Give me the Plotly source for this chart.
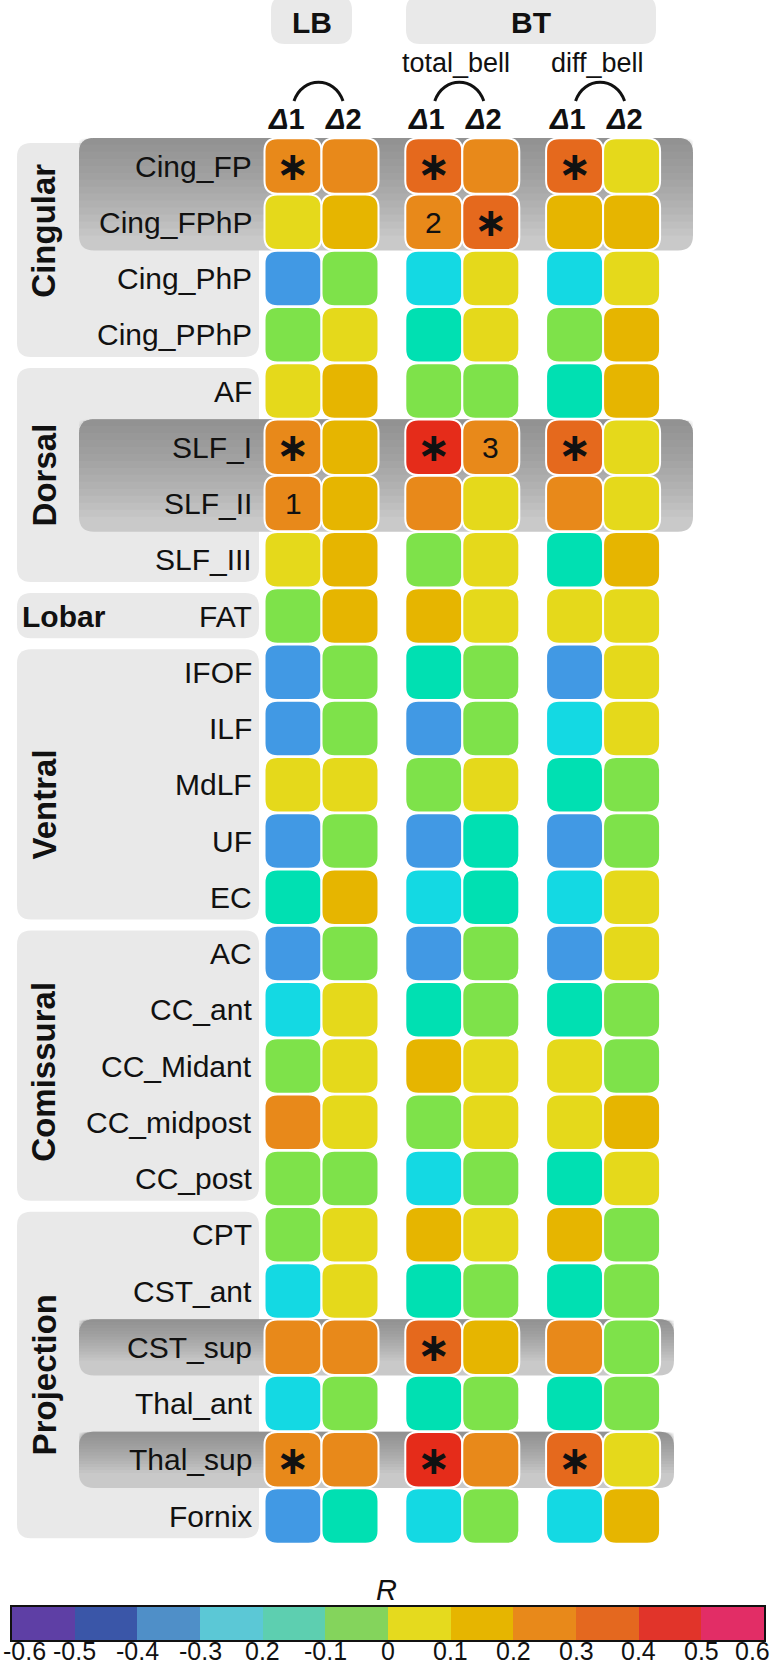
import plotly.graph_objects as go

# ---------------- data ----------------
tracts = ["Cing_FP", "Cing_FPhP", "Cing_PhP", "Cing_PPhP", "AF", "SLF_I", "SLF_II", "SLF_III",
          "FAT", "IFOF", "ILF", "MdLF", "UF", "EC", "AC", "CC_ant", "CC_Midant", "CC_midpost",
          "CC_post", "CPT", "CST_ant", "CST_sup", "Thal_ant", "Thal_sup", "Fornix"]

groups = ["Cingular", "Dorsal", "Lobar", "Ventral", "Comissural", "Projection"]
group_start = [0, 4, 8, 9, 14, 19]
group_end = [3, 7, 8, 13, 18, 24]
group_label_shift = [-0.35, 0, 0, 0.35, 0.1, 0]   # label offset in rows (as placed in the original)

columns = ["LB Δ1", "LB Δ2", "total_bell Δ1", "total_bell Δ2", "diff_bell Δ1", "diff_bell Δ2"]

LB_d1 = [0.25, 0.05, -0.35, -0.05, 0.05, 0.25, 0.25, 0.05, -0.05, -0.35, -0.35, 0.05, -0.35,
         -0.15, -0.35, -0.25, -0.05, 0.25, -0.05, -0.05, -0.25, 0.25, -0.25, 0.25, -0.35]
LB_d2 = [0.25, 0.15, -0.05, 0.05, 0.15, 0.15, 0.15, 0.15, 0.15, -0.05, -0.05, 0.05, -0.05,
         0.15, -0.05, 0.05, 0.05, 0.05, -0.05, 0.05, 0.05, 0.25, -0.05, 0.25, -0.15]
total_d1 = [0.35, 0.25, -0.25, -0.15, -0.05, 0.45, 0.25, -0.05, 0.15, -0.15, -0.35, -0.05, -0.35,
            -0.25, -0.35, -0.15, 0.15, -0.05, -0.25, 0.15, -0.15, 0.35, -0.15, 0.45, -0.25]
total_d2 = [0.25, 0.35, 0.05, 0.05, -0.05, 0.25, 0.05, 0.05, 0.05, -0.05, -0.05, 0.05, -0.15,
            -0.15, -0.05, -0.05, 0.05, 0.05, -0.05, 0.05, -0.05, 0.15, -0.05, 0.25, -0.05]
diff_d1 = [0.35, 0.15, -0.25, -0.05, -0.15, 0.35, 0.25, -0.15, 0.05, -0.35, -0.25, -0.15, -0.35,
           -0.25, -0.35, -0.15, 0.05, 0.05, -0.15, 0.15, -0.15, 0.25, -0.15, 0.35, -0.25]
diff_d2 = [0.05, 0.15, 0.05, 0.15, 0.15, 0.05, 0.05, 0.15, 0.05, 0.05, 0.05, -0.05, -0.05,
           0.05, 0.05, -0.05, -0.05, 0.15, 0.05, -0.05, -0.05, -0.05, -0.05, 0.05, 0.15]
values = [LB_d1, LB_d2, total_d1, total_d2, diff_d1, diff_d2]

# significance / footnote markers (row, column, text)
mark_rows = [0, 0, 0, 1, 5, 5, 5, 21, 23, 23, 23, 1, 5, 6]
mark_cols = [0, 2, 4, 3, 0, 2, 4, 2, 0, 2, 4, 2, 3, 0]
mark_text = ["∗", "∗", "∗", "∗", "∗", "∗", "∗", "∗", "∗", "∗", "∗", "2", "3", "1"]

highlight_rows = [[0, 1], [5, 6], [21, 21], [23, 23]]

# colour scale: 12 bins from -0.6 to 0.6
bin_edges = [-0.6, -0.5, -0.4, -0.3, -0.2, -0.1, 0, 0.1, 0.2, 0.3, 0.4, 0.5, 0.6]
tick_labels = ["-0.6", "-0.5", "-0.4", "-0.3", "0.2", "-0.1", "0", "0.1", "0.2", "0.3", "0.4", "0.5", "0.6"]
cell_colors = ["#6040B8", "#2F5FC8", "#4199E4", "#14D9E3", "#00E0B2", "#7EE24A",
               "#E5D91B", "#E6B500", "#E8891A", "#E5691D", "#E52C1A", "#E22D66"]
bar_colors = ["#5E3FA5", "#3A56A8", "#4F8FC8", "#5BC8D6", "#5DCFB0", "#84D45C",
              "#E5DA1E", "#E6B500", "#E8891A", "#E4681F", "#E1342A", "#E22D66"]

# ---------------- layout geometry ----------------
W, H = 772, 1667
X0PX, XPITCH = 293.0, 57.0      # column 0 centre, column pitch (px)
Y0PX, YPITCH = 166.0, 56.25     # row 0 centre, row pitch (px)
col_pos = [0, 1, 2.47, 3.47, 4.94, 5.94]


def X(px):
    return (px - X0PX) / XPITCH


def Y(py):
    return (py - Y0PX) / YPITCH


def rrect(x0, y0, x1, y1, r, top_only=False):
    rx, ry = r / XPITCH, r / YPITCH
    ry = min(ry, (y1 - y0) / 2)
    if top_only:
        return (f"M {x0},{y1} L {x0},{y0+ry} Q {x0},{y0} {x0+rx},{y0} L {x1-rx},{y0} "
                f"Q {x1},{y0} {x1},{y0+ry} L {x1},{y1} Z")
    return (f"M {x0+rx},{y0} L {x1-rx},{y0} Q {x1},{y0} {x1},{y0+ry} L {x1},{y1-ry} "
            f"Q {x1},{y1} {x1-rx},{y1} L {x0+rx},{y1} Q {x0},{y1} {x0},{y1-ry} "
            f"L {x0},{y0+ry} Q {x0},{y0} {x0+rx},{y0} Z")


def color_for(v):
    for i in range(12):
        if bin_edges[i] <= v < bin_edges[i + 1]:
            return cell_colors[i]
    return cell_colors[-1]


FONT = "Liberation Sans, Arial, sans-serif"
shapes = []
ann = []

# group boxes
for g, s, e, sh in zip(groups, group_start, group_end, group_label_shift):
    top = s - 0.5 + 5 / YPITCH
    bot = e + 0.5 - 6 / YPITCH
    shapes.append(dict(type="path", path=rrect(X(17), top, X(259), bot, 14), xref="x", yref="y",
                       fillcolor="#E9E9E9", line=dict(width=0), layer="below"))
    if s == e:
        ann.append(dict(x=X(20), y=s, text=f"<b>{g}</b>", xanchor="left", yanchor="middle",
                        showarrow=False, font=dict(size=30, family=FONT, color="#111")))
    else:
        ann.append(dict(x=X(44), y=(s + e) / 2 + sh, text=f"<b>{g}</b>", textangle=-90,
                        xanchor="center", yanchor="middle", showarrow=False,
                        font=dict(size=33, family=FONT, color="#111")))

# highlight bands (vertical grey gradient)
for (r0, r1) in highlight_rows:
    right = X(693) if r1 - r0 >= 1 else X(674)
    top, bot = r0 - 0.5, r1 + 0.5
    shapes.append(dict(type="path", path=rrect(X(79), top, right, bot, 15), xref="x", yref="y",
                       fillcolor="#C9C9C9", line=dict(width=0), layer="below"))
    hpx = (bot - top) * YPITCH
    n = 14
    for k in range(n):
        hh = (hpx - 15) * (1 - k / n)
        shapes.append(dict(type="path", path=rrect(X(79), top, right, top + hh / YPITCH, 15, top_only=True),
                           xref="x", yref="y", fillcolor="#6A6A6A", opacity=0.055,
                           line=dict(width=0), layer="below"))

# cells
for c, vals in enumerate(values):
    for r, v in enumerate(vals):
        xc = col_pos[c]
        hx, hy = 28.5 / XPITCH, 27.8 / YPITCH
        shapes.append(dict(type="path", path=rrect(xc - hx, r - hy, xc + hx, r + hy, 13),
                           xref="x", yref="y", fillcolor=color_for(v),
                           line=dict(color="white", width=2), layer="below"))

# significance markers
for r, c, t in zip(mark_rows, mark_cols, mark_text):
    if t == "∗":
        ann.append(dict(x=col_pos[c], y=r, text="<b>∗</b>", showarrow=False, xanchor="center",
                        yanchor="middle", font=dict(size=40, family="DejaVu Sans", color="#111")))
    else:
        ann.append(dict(x=col_pos[c], y=r, text=t, showarrow=False, xanchor="center", yanchor="middle",
                        font=dict(size=30, family=FONT, color="#111")))

# tract labels
for r, t in enumerate(tracts):
    ann.append(dict(x=X(254), y=r, text=t, xanchor="right", yanchor="middle", showarrow=False,
                    font=dict(size=30, family=FONT, color="#111")))

# header boxes
for name, x0, x1 in [("LB", 271, 352), ("BT", 406, 656)]:
    shapes.append(dict(type="path", path=rrect(X(x0), Y(-4), X(x1), Y(44), 14), xref="x", yref="y",
                       fillcolor="#E9E9E9", line=dict(width=0), layer="below"))
    ann.append(dict(x=X((x0 + x1) / 2), y=Y(22), text=f"<b>{name}</b>", showarrow=False,
                    xanchor="center", yanchor="middle", font=dict(size=30, family=FONT, color="#111")))

for name, pair in [("total_bell", (2, 3)), ("diff_bell", (4, 5))]:
    xm = (col_pos[pair[0]] + col_pos[pair[1]]) / 2
    ann.append(dict(x=xm - 6 / XPITCH, y=Y(63), text=name, showarrow=False, xanchor="center",
                    yanchor="middle", font=dict(size=27, family=FONT, color="#111")))

# arcs + delta labels
for pair in [(0, 1), (2, 3), (4, 5)]:
    xm = (col_pos[pair[0]] + col_pos[pair[1]]) / 2 - 3 / XPITCH
    a = 24.5 / XPITCH
    b = 16 / XPITCH
    path = (f"M {xm-a},{Y(101)} C {xm-b},{Y(76)} {xm+b},{Y(76)} {xm+a},{Y(101)}")
    shapes.append(dict(type="path", path=path, xref="x", yref="y", line=dict(color="#111", width=3)))
    for i, c in enumerate(pair):
        ann.append(dict(x=col_pos[c] - 7 / XPITCH, y=Y(119), text=f"<b><i>Δ</i>{i+1}</b>",
                        showarrow=False, xanchor="center", yanchor="middle",
                        font=dict(size=29, family=FONT, color="#111")))

# colour bar title
ann.append(dict(x=0.5, xref="paper", y=Y(1590), text="<i>R</i>", showarrow=False,
                xanchor="center", yanchor="middle", font=dict(size=29, family=FONT, color="#111")))

# colour bar tick labels, placed on the colour-bar axis scale
for i, (v, t) in enumerate(zip(bin_edges, tick_labels)):
    anchor, shift = "center", 0
    if i == 0:
        anchor, shift = "left", -10
    elif i == len(bin_edges) - 1:
        anchor, shift = "right", 7
    ann.append(dict(x=v, xref="x2", y=1 - 1651 / H, yref="paper", text=t, showarrow=False,
                    xanchor=anchor, xshift=shift, yanchor="middle", borderpad=0,
                    font=dict(size=25, family=FONT, color="#111")))

fig = go.Figure()

# colour bar drawn as a heatmap on its own axes
mids = [(bin_edges[i] + bin_edges[i + 1]) / 2 for i in range(12)]
cs = []
for i, col in enumerate(bar_colors):
    cs.append([i / 12, col])
    cs.append([(i + 1) / 12, col])
fig.add_trace(go.Heatmap(z=[mids], x=mids, y=[0], colorscale=cs, zmin=-0.6, zmax=0.6,
                         showscale=False, xaxis="x2", yaxis="y2", hoverinfo="skip"))

# invisible trace to carry main axes
fig.add_trace(go.Scatter(x=[col_pos[0]], y=[0], mode="markers", marker=dict(opacity=0),
                         showlegend=False, hoverinfo="skip"))

fig.update_layout(
    width=W, height=H, margin=dict(l=0, r=0, t=0, b=0),
    paper_bgcolor="white", plot_bgcolor="rgba(0,0,0,0)",
    showlegend=False,
    xaxis=dict(range=[X(0), X(W)], visible=False, fixedrange=True, domain=[0, 1]),
    yaxis=dict(range=[Y(H), Y(0)], visible=False, fixedrange=True, domain=[0, 1]),
    xaxis2=dict(domain=[12 / W, 764 / W], range=[-0.6, 0.6], anchor="y2", fixedrange=True,
                showticklabels=False, ticks="", showgrid=False, zeroline=False,
                showline=True, mirror=True, linecolor="#111", linewidth=2),
    yaxis2=dict(domain=[1 - 1640 / H, 1 - 1607 / H], range=[-0.5, 0.5], anchor="x2", fixedrange=True,
                showticklabels=False, ticks="", showgrid=False, zeroline=False,
                showline=True, mirror=True, linecolor="#111", linewidth=2),
    shapes=shapes, annotations=ann,
)

fig.write_html("out.html", config={"displayModeBar": False},
               post_script="document.body.style.margin='0';document.body.style.overflow='hidden';")
